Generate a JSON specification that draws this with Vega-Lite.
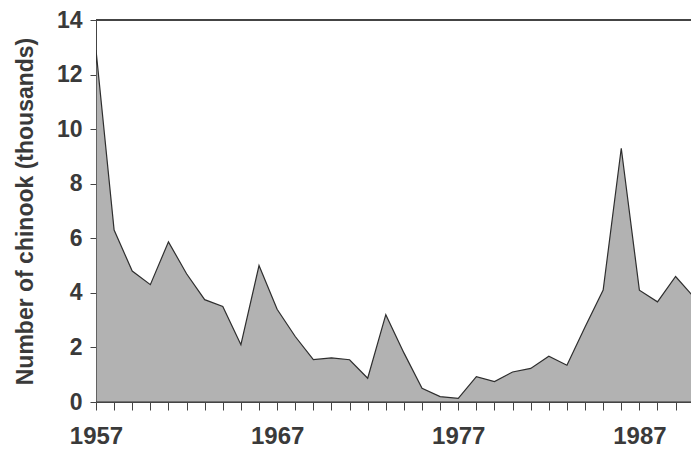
{
  "$schema": "https://vega.github.io/schema/vega-lite/v6.json",
  "width": 595,
  "height": 382,
  "autosize": {"type": "none"},
  "padding": {"left": 96, "top": 20, "right": 0, "bottom": 48},
  "background": "#ffffff",
  "config": {"view": {"stroke": null}, "font": "Liberation Sans"},
  "data": {"values": [
    {"year": 1957, "n": 12.9},
    {"year": 1958, "n": 6.3},
    {"year": 1959, "n": 4.8},
    {"year": 1960, "n": 4.3},
    {"year": 1961, "n": 5.87},
    {"year": 1962, "n": 4.7},
    {"year": 1963, "n": 3.75},
    {"year": 1964, "n": 3.5},
    {"year": 1965, "n": 2.1},
    {"year": 1966, "n": 5.0},
    {"year": 1967, "n": 3.4},
    {"year": 1968, "n": 2.4},
    {"year": 1969, "n": 1.55},
    {"year": 1970, "n": 1.62},
    {"year": 1971, "n": 1.55},
    {"year": 1972, "n": 0.87},
    {"year": 1973, "n": 3.2},
    {"year": 1974, "n": 1.8},
    {"year": 1975, "n": 0.5},
    {"year": 1976, "n": 0.2},
    {"year": 1977, "n": 0.13},
    {"year": 1978, "n": 0.93},
    {"year": 1979, "n": 0.75},
    {"year": 1980, "n": 1.1},
    {"year": 1981, "n": 1.23},
    {"year": 1982, "n": 1.68},
    {"year": 1983, "n": 1.35},
    {"year": 1984, "n": 2.75},
    {"year": 1985, "n": 4.1},
    {"year": 1986, "n": 9.3},
    {"year": 1987, "n": 4.1},
    {"year": 1988, "n": 3.67},
    {"year": 1989, "n": 4.6},
    {"year": 1990, "n": 3.85}
  ]},
  "layer": [
    {
      "mark": {"type": "area", "clip": true, "fill": "#b2b2b2", "stroke": "#2e2e2e", "strokeWidth": 1.2},
      "encoding": {
        "x": {
          "field": "year", "type": "quantitative",
          "scale": {"domain": [1957, 1989.85], "nice": false, "zero": false},
          "axis": {
            "title": null,
            "values": [1957,1958,1959,1960,1961,1962,1963,1964,1965,1966,1967,1968,1969,1970,1971,1972,1973,1974,1975,1976,1977,1978,1979,1980,1981,1982,1983,1984,1985,1986,1987,1988,1989],
            "labelExpr": "datum.value % 10 == 7 ? format(datum.value, 'd') : ''",
            "grid": false,
            "domainColor": "#444",
            "tickColor": "#444",
            "tickSize": 8,
            "labelPadding": 14,
            "labelFontSize": 24,
            "labelFontWeight": "bold",
            "labelColor": "#3a3a3a",
            "labelFlush": false,
            "labelOverlap": false
          }
        },
        "y": {
          "field": "n", "type": "quantitative",
          "scale": {"domain": [0, 14], "nice": false},
          "axis": {
            "title": "Number of chinook (thousands)",
            "values": [0,2,4,6,8,10,12,14],
            "grid": false,
            "domainColor": "#444",
            "tickColor": "#444",
            "tickSize": 6,
            "labelPadding": 8,
            "labelFontSize": 23,
            "labelFontWeight": "bold",
            "labelColor": "#3a3a3a",
            "titleFontSize": 23,
            "titleFontWeight": "bold",
            "titleColor": "#3a3a3a",
            "titlePadding": 19,
            "labelFlush": false
          }
        }
      }
    },
    {
      "mark": {"type": "rule", "color": "#444", "strokeWidth": 1.2},
      "encoding": {"y": {"datum": 14}}
    }
  ]
}
